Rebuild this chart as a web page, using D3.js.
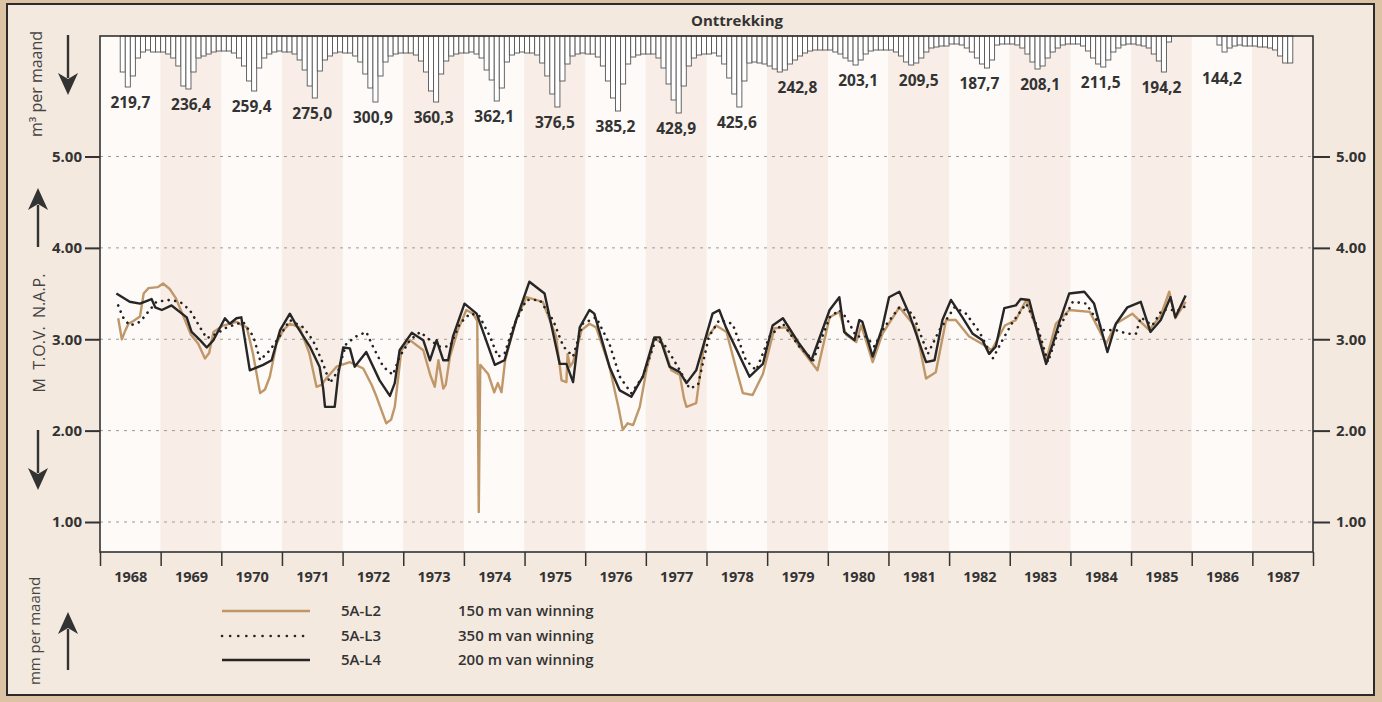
<!DOCTYPE html>
<html>
<head>
<meta charset="utf-8">
<script src="https://cdn.jsdelivr.net/npm/d3@7"></script>
<style>
	body { margin: 0; background: #dcc3a4; }
	svg { display: block; font-family: 'Open Sans', sans-serif; }
</style>
</head>
<body>
<script>
// data: years, yearly totals, monthly extraction (Jan..Dec, null = no bar)
	var jaren = [1968, 1969, 1970, 1971, 1972, 1973, 1974, 1975, 1976, 1977,
		1978, 1979, 1980, 1981, 1982, 1983, 1984, 1985, 1986, 1987];
	var jaartotaal = ['219,7', '236,4', '259,4', '275,0', '300,9', '360,3', '362,1', '376,5', '385,2', '428,9',
		'425,6', '242,8', '203,1', '209,5', '187,7', '208,1', '211,5', '194,2', '144,2'];
	var onttrekking = [
		[null, null, null, null, 36, 51, 40, 22, 16, 14, 16, 16],
		[16, 18, 22, 30, 50, 53, 36, 22, 20, 18, 16, 15],
		[15, 15, 17, 22, 30, 45, 55, 32, 22, 18, 16, 15],
		[16, 16, 18, 24, 34, 50, 62, 35, 24, 20, 17, 16],
		[17, 17, 20, 26, 38, 52, 66, 40, 26, 20, 18, 17],
		[17, 17, 19, 25, 36, 55, 66, 38, 25, 20, 18, 17],
		[17, 16, 18, 22, 34, 44, 65, 52, 26, 19, 17, 16],
		[17, 17, 19, 27, 40, 58, 71, 45, 28, 20, 18, 17],
		[18, 18, 21, 30, 45, 62, 75, 48, 28, 21, 19, 18],
		[18, 18, 22, 32, 48, 64, 77, 50, 30, 22, 19, 18],
		[18, 17, 20, 28, 42, 58, 71, 45, 27, 26, 27, 28],
		[30, 33, 36, 34, 28, 24, 20, 17, 15, 14, 14, 14],
		[14, 16, 18, 22, 25, 29, 24, 18, 15, 14, 14, 14],
		[14, 16, 20, 26, 29, 27, 22, 16, 12, 11, 10, 10],
		[8, 8, 9, 12, 16, 22, 28, 32, 24, 9, 8, 8],
		[8, 9, 12, 18, 26, 33, 30, 22, 16, 12, 9, 8],
		[8, 8, 10, 15, 22, 28, 31, 24, 16, 12, 9, 8],
		[8, 9, 10, 12, 18, 25, 36, 6, null, null, null, null],
		[null, null, null, null, null, 9, 16, 12, 10, 9, 10, 10],
		[10, 11, 11, 12, 14, 20, 27, 27, null, null, null, null]
	];

// groundwater levels [year, m t.o.v. NAP]
	var l2 = [[1968.30,3.23],[1968.36,3.00],[1968.42,3.10],[1968.47,3.17],[1968.55,3.20],[1968.66,3.25],[1968.72,3.50],[1968.80,3.56],[1968.95,3.57],[1969.04,3.61],[1969.15,3.55],[1969.25,3.45],[1969.37,3.26],[1969.50,3.05],[1969.62,2.95],[1969.73,2.79],[1969.80,2.85],[1969.87,3.08],[1970.03,3.15],[1970.25,3.19],[1970.42,3.13],[1970.52,2.85],[1970.64,2.41],[1970.72,2.45],[1970.80,2.59],[1970.91,2.95],[1971.02,3.10],[1971.13,3.17],[1971.29,3.13],[1971.45,2.85],[1971.57,2.48],[1971.65,2.50],[1971.73,2.57],[1971.90,2.70],[1972.12,2.75],[1972.34,2.68],[1972.48,2.50],[1972.56,2.37],[1972.72,2.08],[1972.80,2.12],[1972.86,2.26],[1972.97,2.88],[1973.11,2.99],[1973.33,2.88],[1973.45,2.60],[1973.52,2.48],[1973.58,2.77],[1973.66,2.46],[1973.70,2.50],[1973.77,2.81],[1973.90,3.10],[1974.04,3.32],[1974.15,3.28],[1974.22,3.20],[1974.245,1.11],[1974.27,2.72],[1974.40,2.62],[1974.50,2.42],[1974.56,2.52],[1974.62,2.42],[1974.68,2.77],[1974.86,3.21],[1975.03,3.46],[1975.30,3.41],[1975.52,3.03],[1975.61,2.55],[1975.69,2.53],[1975.71,2.84],[1975.75,2.70],[1975.80,2.75],[1975.94,3.10],[1976.07,3.17],[1976.18,3.13],[1976.40,2.70],[1976.55,2.25],[1976.62,2.01],[1976.70,2.08],[1976.79,2.06],[1976.90,2.26],[1977.01,2.66],[1977.14,3.01],[1977.28,2.95],[1977.42,2.66],[1977.56,2.61],[1977.63,2.35],[1977.67,2.26],[1977.83,2.30],[1977.97,2.99],[1978.16,3.15],[1978.33,3.08],[1978.50,2.65],[1978.60,2.41],[1978.76,2.39],[1978.93,2.62],[1979.12,3.12],[1979.31,3.13],[1979.53,2.92],[1979.83,2.66],[1980.03,3.24],[1980.19,3.30],[1980.30,3.05],[1980.47,2.97],[1980.55,3.15],[1980.60,3.05],[1980.74,2.75],[1980.90,3.06],[1981.18,3.35],[1981.45,3.13],[1981.62,2.57],[1981.78,2.64],[1981.95,3.21],[1982.11,3.21],[1982.33,3.03],[1982.54,2.95],[1982.70,2.88],[1982.92,3.15],[1983.10,3.21],[1983.27,3.43],[1983.49,3.03],[1983.60,2.77],[1983.76,3.17],[1983.98,3.32],[1984.32,3.30],[1984.59,2.95],[1984.75,3.17],[1985.02,3.28],[1985.30,3.10],[1985.49,3.26],[1985.63,3.52],[1985.73,3.23],[1985.90,3.41]];
	var l3 = [[1968.30,3.37],[1968.38,3.24],[1968.49,3.15],[1968.66,3.19],[1968.77,3.28],[1968.93,3.41],[1969.15,3.43],[1969.32,3.41],[1969.48,3.32],[1969.65,3.13],[1969.76,3.01],[1969.92,3.06],[1970.09,3.13],[1970.36,3.19],[1970.53,3.03],[1970.64,2.77],[1970.80,2.88],[1970.97,3.04],[1971.13,3.21],[1971.35,3.13],[1971.51,2.99],[1971.68,2.73],[1971.79,2.52],[1971.93,2.66],[1972.06,2.95],[1972.22,3.03],[1972.39,3.08],[1972.50,2.92],[1972.67,2.70],[1972.83,2.61],[1972.94,2.81],[1973.11,2.99],[1973.28,3.08],[1973.44,2.99],[1973.60,2.92],[1973.77,2.92],[1973.93,3.17],[1974.10,3.28],[1974.25,3.26],[1974.43,3.03],[1974.56,2.81],[1974.67,2.84],[1974.81,3.13],[1975.03,3.43],[1975.25,3.43],[1975.47,3.21],[1975.64,2.92],[1975.80,2.81],[1975.96,3.17],[1976.18,3.24],[1976.40,2.95],[1976.57,2.59],[1976.76,2.41],[1976.95,2.59],[1977.17,3.01],[1977.33,2.92],[1977.56,2.66],[1977.72,2.46],[1977.86,2.50],[1978.04,3.03],[1978.21,3.21],[1978.43,3.17],[1978.65,2.77],[1978.82,2.66],[1979.04,3.03],[1979.26,3.17],[1979.53,2.92],[1979.76,2.77],[1980.03,3.24],[1980.19,3.32],[1980.30,3.24],[1980.47,3.03],[1980.63,3.03],[1980.77,2.92],[1980.93,3.13],[1981.18,3.35],[1981.40,3.28],[1981.65,2.84],[1981.84,3.10],[1982.09,3.35],[1982.28,3.28],[1982.50,3.08],[1982.72,2.79],[1982.88,2.99],[1983.05,3.19],[1983.27,3.39],[1983.46,3.13],[1983.63,2.75],[1983.82,3.13],[1984.04,3.41],[1984.26,3.39],[1984.54,3.10],[1984.75,3.10],[1984.94,3.06],[1985.08,3.06],[1985.16,3.24],[1985.35,3.15],[1985.51,3.32],[1985.65,3.32],[1985.80,3.32],[1985.96,3.39]];
	var l4 = [[1968.27,3.50],[1968.49,3.41],[1968.66,3.39],[1968.85,3.44],[1968.91,3.35],[1969.02,3.32],[1969.18,3.37],[1969.43,3.24],[1969.51,3.08],[1969.65,2.99],[1969.76,2.91],[1969.87,2.99],[1970.06,3.23],[1970.14,3.17],[1970.25,3.23],[1970.33,3.24],[1970.47,2.66],[1970.69,2.72],[1970.83,2.77],[1970.97,3.10],[1971.13,3.28],[1971.24,3.15],[1971.46,2.92],[1971.62,2.70],[1971.68,2.46],[1971.71,2.26],[1971.87,2.26],[1971.93,2.62],[1972.01,2.91],[1972.12,2.90],[1972.20,2.70],[1972.39,2.86],[1972.61,2.55],[1972.78,2.38],[1972.86,2.52],[1972.94,2.88],[1973.14,3.07],[1973.33,2.99],[1973.44,2.77],[1973.55,2.99],[1973.66,2.77],[1973.74,2.77],[1973.82,3.03],[1974.01,3.39],[1974.21,3.28],[1974.51,2.72],[1974.67,2.77],[1974.86,3.21],[1975.08,3.63],[1975.33,3.50],[1975.58,2.73],[1975.69,2.73],[1975.80,2.53],[1975.91,3.13],[1976.07,3.32],[1976.15,3.28],[1976.40,2.70],[1976.57,2.44],[1976.76,2.37],[1976.95,2.59],[1977.14,3.02],[1977.23,3.02],[1977.39,2.70],[1977.56,2.64],[1977.67,2.52],[1977.83,2.66],[1978.10,3.28],[1978.21,3.32],[1978.32,3.13],[1978.71,2.59],[1978.93,2.73],[1979.09,3.15],[1979.26,3.23],[1979.53,2.95],[1979.73,2.77],[1980.03,3.32],[1980.19,3.46],[1980.27,3.08],[1980.44,2.99],[1980.52,3.21],[1980.57,3.19],[1980.74,2.81],[1980.90,3.13],[1981.01,3.46],[1981.18,3.52],[1981.34,3.28],[1981.62,2.75],[1981.76,2.77],[1981.89,3.21],[1982.03,3.43],[1982.22,3.24],[1982.39,3.06],[1982.55,2.99],[1982.66,2.84],[1982.77,2.92],[1982.91,3.34],[1983.10,3.37],[1983.18,3.44],[1983.32,3.43],[1983.49,2.99],[1983.60,2.73],[1983.71,2.95],[1983.82,3.19],[1983.98,3.50],[1984.23,3.52],[1984.39,3.39],[1984.61,2.86],[1984.75,3.17],[1984.94,3.35],[1985.16,3.41],[1985.32,3.08],[1985.49,3.21],[1985.65,3.46],[1985.73,3.24],[1985.90,3.48]];

	var yTicks = [1, 2, 3, 4, 5];
	var reeksen = ['5A-L2', '5A-L3', '5A-L4'];
	var afstanden = ['150 m van winning', '350 m van winning', '200 m van winning'];

// parameters for layout
	var width = 1382,
		height = 702,
		pLeft = 100,
		pRight = 1313,
		pTop = 36,
		pBottom = 552,
		ink = '#333',
		tan = '#bf9769';

	var svg = d3.select('body').append('svg')
		.attr('width', width)
		.attr('height', height);

	var x = d3.scaleLinear().domain([1968, 1988]).range([pLeft, pRight]);
	var y = d3.scaleLinear().domain([1, 5]).range([522, 156.5]);
	var bar = d3.scaleLinear().domain([0, 80]).range([0, 80]);

// frame
	svg.append('rect')
		.attr('x', 7).attr('y', 4)
		.attr('width', 1367).attr('height', 691)
		.style('fill', '#f3e9df')
		.style('stroke', '#2b2b2b')
		.style('stroke-width', 2);

// year stripes
	svg.append('g').selectAll('rect')
		.data(jaren)
	  .enter().append('rect')
		.attr('x', function(d) { return x(d); })
		.attr('y', pTop)
		.attr('width', function(d) { return x(d + 1) - x(d); })
		.attr('height', pBottom - pTop)
		.style('fill', function(d, i) { return i % 2 ? '#f8eee7' : '#fdfaf7'; });

// dashed grid
	svg.append('g').selectAll('line')
		.data(yTicks)
	  .enter().append('line')
		.attr('x1', pLeft).attr('x2', pRight)
		.attr('y1', function(d) { return y(d); })
		.attr('y2', function(d) { return y(d); })
		.style('stroke', '#9a9a9a')
		.style('stroke-width', 1)
		.style('stroke-dasharray', '3,5');

// monthly extraction bars
	var maanden = [];
	onttrekking.forEach(function(row, i) {
		row.forEach(function(v, m) {
			if (v !== null) maanden.push({ t: jaren[i] + m / 12, v: v });
		});
	});
	svg.append('g').selectAll('rect')
		.data(maanden)
	  .enter().append('rect')
		.attr('x', function(d) { return x(d.t); })
		.attr('y', pTop)
		.attr('width', x(1968 + 1 / 12) - x(1968))
		.attr('height', function(d) { return bar(d.v); })
		.style('fill', '#fff')
		.style('stroke', '#555')
		.style('stroke-width', 0.9);

// yearly totals under the bars
	svg.append('g').selectAll('text')
		.data(jaartotaal)
	  .enter().append('text')
		.attr('x', function(d, i) { return x(jaren[i] + 0.5); })
		.attr('y', function(d, i) {
			var rows = i == 18 ? onttrekking[18].concat(onttrekking[19]) : onttrekking[i];
			return pTop + bar(d3.max(rows)) + 21;
		})
		.attr('text-anchor', 'middle')
		.style('font-size', '15.5px')
		.style('font-weight', 700)
		.style('fill', ink)
		.text(function(d) { return d; });

// lines
	var line = d3.line()
		.x(function(d) { return x(d[0]); })
		.y(function(d) { return y(d[1]); });

	svg.append('path').datum(l2)
		.attr('d', line)
		.style('fill', 'none')
		.style('stroke', tan)
		.style('stroke-width', 2.4)
		.style('stroke-linejoin', 'round');

	svg.append('path').datum(l3)
		.attr('d', line)
		.style('fill', 'none')
		.style('stroke', '#222')
		.style('stroke-width', 2.6)
		.style('stroke-linecap', 'round')
		.style('stroke-dasharray', '0.1,6.5');

	svg.append('path').datum(l4)
		.attr('d', line)
		.style('fill', 'none')
		.style('stroke', '#262626')
		.style('stroke-width', 2.4)
		.style('stroke-linejoin', 'round');

// plot outline
	svg.append('rect')
		.attr('x', pLeft).attr('y', pTop)
		.attr('width', pRight - pLeft).attr('height', pBottom - pTop)
		.style('fill', 'none')
		.style('stroke', ink)
		.style('stroke-width', 1.6);

// axes
	function styleAxis(g, size) {
		g.select('.domain').remove();
		g.selectAll('line').style('stroke', ink).style('stroke-width', 2);
		g.selectAll('text')
			.style('font-family', "'Open Sans', sans-serif")
			.style('font-size', size)
			.style('font-weight', 700)
			.style('fill', ink);
	}

	svg.append('g')
		.attr('transform', 'translate(0,' + pBottom + ')')
		.call(d3.axisBottom(x).tickValues(d3.range(1968, 1989)).tickSize(14).tickFormat(''))
		.call(styleAxis, '15px')
		.selectAll('line').style('stroke-width', 1.5);

	svg.append('g')
		.attr('transform', 'translate(0,' + pBottom + ')')
		.call(d3.axisBottom(x).tickValues(jaren.map(function(d) { return d + 0.5; }))
			.tickSize(0).tickPadding(20).tickFormat(function(d) { return Math.floor(d); }))
		.call(styleAxis, '14.5px');

	svg.append('g')
		.attr('transform', 'translate(' + pLeft + ',0)')
		.call(d3.axisLeft(y).tickValues(yTicks).tickSize(15).tickPadding(3).tickFormat(d3.format('.2f')))
		.call(styleAxis, '15px');

	svg.append('g')
		.attr('transform', 'translate(' + pRight + ',0)')
		.call(d3.axisRight(y).tickValues(yTicks).tickSize(17).tickPadding(6).tickFormat(d3.format('.2f')))
		.call(styleAxis, '15px');

// title
	svg.append('text')
		.attr('x', 737).attr('y', 26)
		.attr('text-anchor', 'middle')
		.style('font-size', '15px')
		.style('font-weight', 700)
		.style('fill', ink)
		.text('Onttrekking');

// side labels
	function sideLabel(cx, cy, txt, size) {
		svg.append('text')
			.attr('transform', 'translate(' + cx + ',' + cy + ') rotate(-90)')
			.attr('text-anchor', 'middle')
			.style('font-size', size)
			.style('fill', '#444')
			.style('white-space', 'pre')
			.text(txt);
	}
	sideLabel(42, 84, 'm³ per maand', '16px');
	sideLabel(45, 333, 'M  T.O.V.  N.A.P.', '16px');
	sideLabel(40, 631, 'mm per maand', '15px');

// arrows
	function arrow(cx, from, tip) {
		var dir = tip > from ? 1 : -1,
			h = 22, w = 10;
		svg.append('line')
			.attr('x1', cx).attr('x2', cx)
			.attr('y1', from).attr('y2', tip - dir * (h - 5))
			.style('stroke', ink)
			.style('stroke-width', 2.4);
		svg.append('path')
			.attr('d', 'M' + cx + ',' + tip +
				'L' + (cx - w) + ',' + (tip - dir * h) +
				'L' + cx + ',' + (tip - dir * (h - 6)) +
				'L' + (cx + w) + ',' + (tip - dir * h) + 'Z')
			.style('fill', ink);
	}
	arrow(68, 35, 95);
	arrow(38, 247, 188);
	arrow(38, 430, 490);
	arrow(68, 670, 612);

// legend
	var rowY = [611, 636, 660];
	var legend = svg.append('g').selectAll('g')
		.data(reeksen)
	  .enter().append('g')
		.attr('transform', function(d, i) { return 'translate(0,' + rowY[i] + ')'; });

	legend.append('line')
		.attr('x1', 222).attr('x2', 310)
		.style('stroke', function(d, i) { return i == 0 ? tan : '#262626'; })
		.style('stroke-width', function(d, i) { return i == 1 ? 2.6 : 2.4; })
		.style('stroke-linecap', function(d, i) { return i == 1 ? 'round' : 'butt'; })
		.style('stroke-dasharray', function(d, i) { return i == 1 ? '0.1,8' : null; });

	legend.append('text')
		.attr('x', 341).attr('y', 5)
		.style('font-size', '15px')
		.style('font-weight', 600)
		.style('fill', ink)
		.text(function(d) { return d; });

	legend.append('text')
		.attr('x', 458).attr('y', 5)
		.style('font-size', '15px')
		.style('font-weight', 600)
		.style('fill', ink)
		.text(function(d, i) { return afstanden[i]; });
</script>
</body>
</html>
